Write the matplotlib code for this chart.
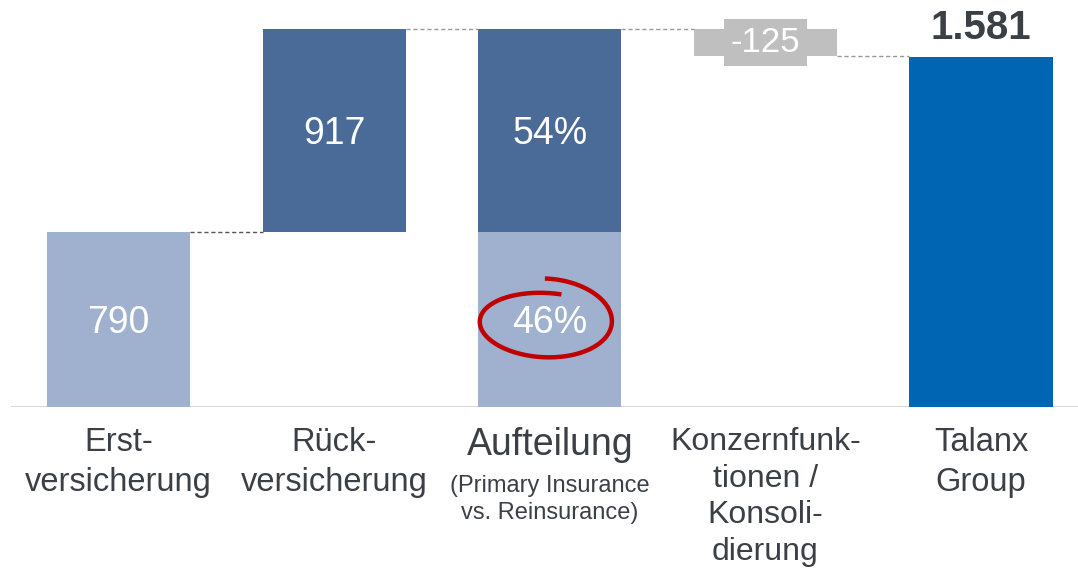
import numpy as np
import matplotlib.pyplot as plt
from matplotlib.lines import Line2D
from matplotlib.transforms import IdentityTransform

plt.rcParams["font.family"] = ["Liberation Sans", "DejaVu Sans"]

# data
CATEGORIES = [
    "Erst-\nversicherung",
    "Rück-\nversicherung",
    "Aufteilung",
    "Konzernfunk-\ntionen /\nKonsoli-\ndierung",
    "Talanx\nGroup",
]
SPLIT_NOTE = "(Primary Insurance\nvs. Reinsurance)"
PRIMARY = 790
REINSURANCE = 917
CONSOLIDATION = -125
TOTAL = 1581
STEP_LABELS = ["790", "917", "-125"]
SPLIT_LABELS = ["46%", "54%"]
TOTAL_LABEL = "1.581"

LIGHT = "#9FB1CE"
DARK = "#4A6A98"
GREY = "#BFBFBF"
BLUE = "#0066B3"
TEXT = "#3B4046"
W = 0.664
NUDGE = -18  # visual centring of in-bar labels

fig = plt.figure(figsize=(10.78, 5.71), dpi=100)
ax = fig.add_axes([11 / 1078, 164 / 571, 1067 / 1078, 407 / 571])
ax.set_xlim(-0.5, 4.45)
ax.set_ylim(0, 1837)
ax.set_axis_off()

subtotal = PRIMARY + REINSURANCE

ax.bar(0, PRIMARY, W, color=LIGHT)
ax.bar(1, REINSURANCE, W, bottom=PRIMARY, color=DARK)
ax.bar(2, PRIMARY, W, color=LIGHT)
ax.bar(2, REINSURANCE, W, bottom=PRIMARY, color=DARK)
ax.bar(3, CONSOLIDATION, W, bottom=subtotal, color=GREY)
ax.bar(4, TOTAL, W, color=BLUE)

ax.axhline(0, color="#D2D2D2", lw=2, zorder=0)

# dashed connectors
conn = [
    (0, 1, PRIMARY, "#555555"),
    (1, 2, subtotal, "#999999"),
    (2, 3, subtotal, "#999999"),
    (3, 4, subtotal + CONSOLIDATION, "#999999"),
]
for a, b, y, c in conn:
    ax.plot([a + W / 2, b - W / 2], [y, y], color=c, lw=1, ls=(0, (3, 2)))

# value labels
vfont = dict(fontsize=27, color="white", ha="center", va="center")
ax.text(0, PRIMARY / 2 + NUDGE, STEP_LABELS[0], **vfont)
ax.text(1, PRIMARY + REINSURANCE / 2 + NUDGE, STEP_LABELS[1], **vfont)
ax.text(2, PRIMARY / 2 + NUDGE, SPLIT_LABELS[0], **vfont)
ax.text(2, PRIMARY + REINSURANCE / 2 + NUDGE, SPLIT_LABELS[1], **vfont)
ax.text(3, subtotal + CONSOLIDATION / 2, STEP_LABELS[2], fontsize=25,
        color="white", ha="center", va="center",
        bbox=dict(boxstyle="square,pad=0.2", fc=GREY, ec="none"))
ax.annotate(TOTAL_LABEL, (4, TOTAL), xytext=(0, 7), textcoords="offset points",
            ha="center", va="bottom", fontsize=29, fontweight="bold", color=TEXT)

# category labels
for i, lab in enumerate(CATEGORIES):
    size = {2: 27, 3: 23}.get(i, 23.5)
    spacing = 1.29 if i == 3 else 1.36
    ax.text(i, -90, lab, ha="center", va="top", fontsize=size, color=TEXT,
            linespacing=spacing, clip_on=False)
ax.text(2, -305, SPLIT_NOTE, ha="center", va="top", fontsize=17, color=TEXT,
        linespacing=1.3, clip_on=False)

# red hand-drawn circle around the 46% label
cx, cy = ax.transData.transform((2, PRIMARY / 2))
cx, cy = cx - 5, cy - 2
t = np.radians(np.linspace(90, -285, 300))
ra = np.linspace(68, 64, t.size)
rb = np.linspace(43, 28, t.size)
fig.add_artist(Line2D(cx + ra * np.cos(t), cy + rb * np.sin(t),
                      transform=IdentityTransform(), color="#C00000", lw=3.2,
                      solid_capstyle="butt"))

fig.savefig("out.png", dpi=100, facecolor="white")
